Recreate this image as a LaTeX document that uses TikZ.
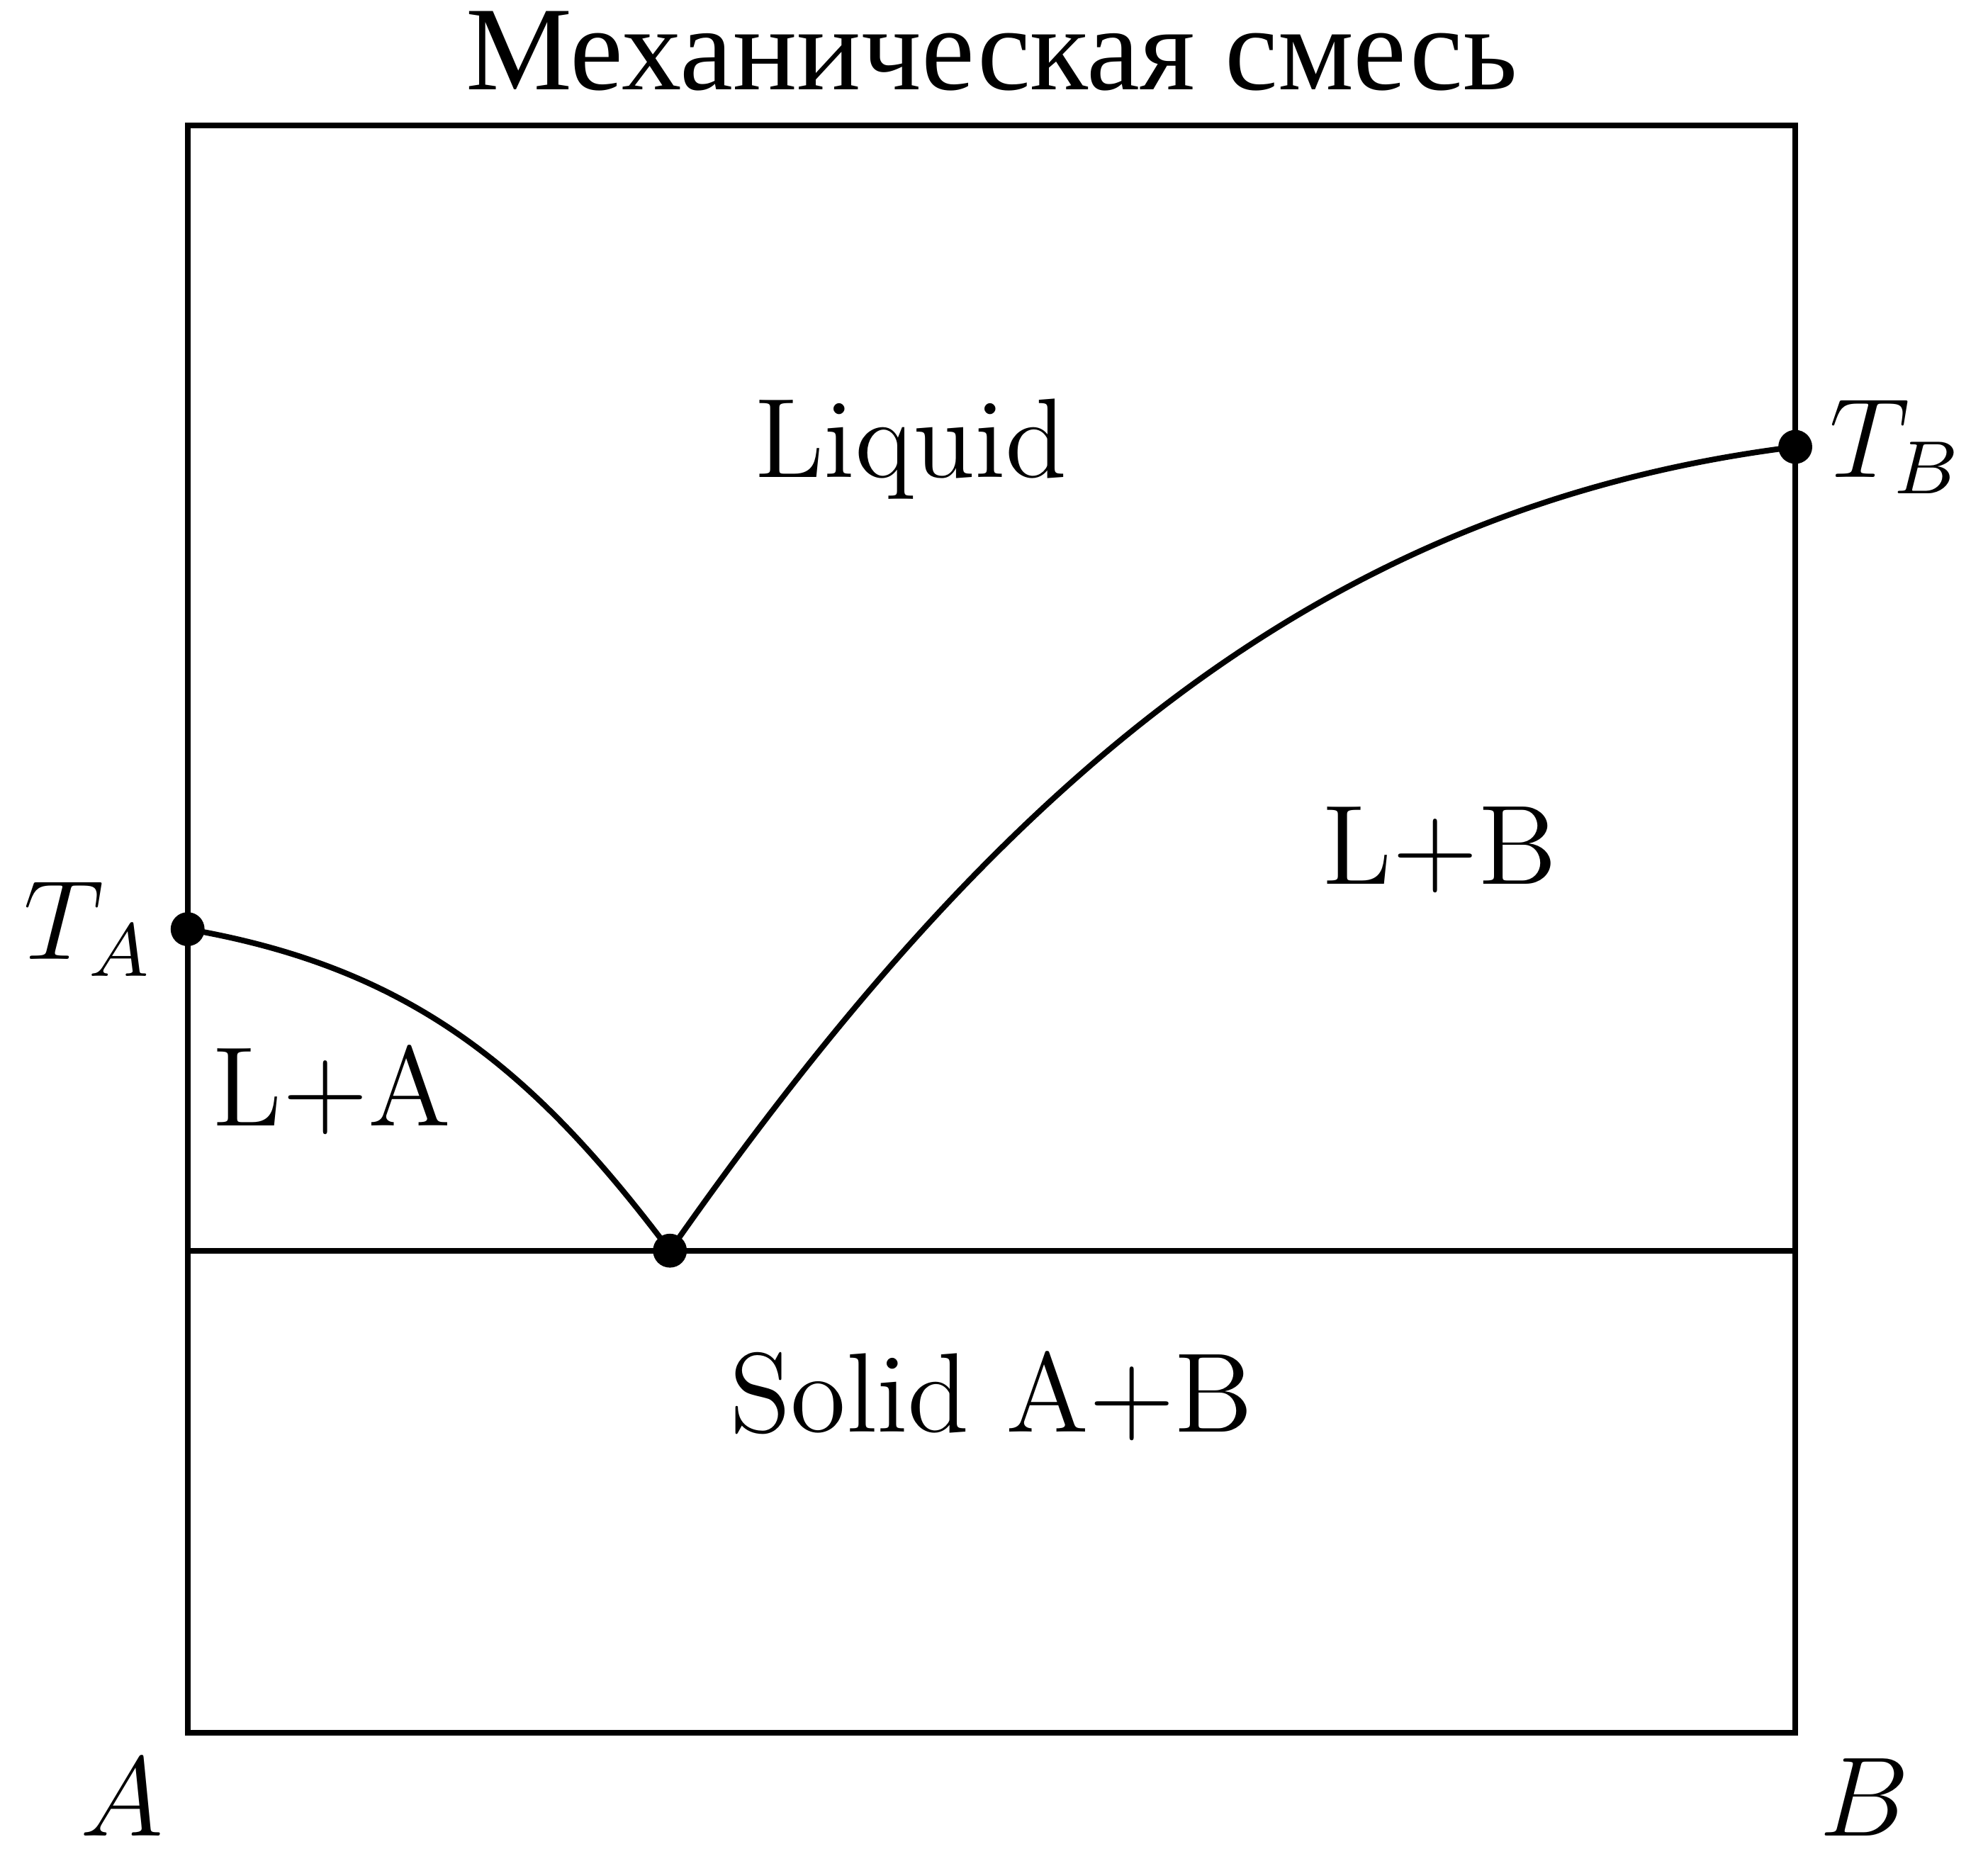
\documentclass[tikz,border=0pt]{standalone}
\usepackage{fontspec}
\newfontfamily\cyrfont{Liberation Serif}
\usetikzlibrary{positioning}
\tikzset{
  phase/.style={font=\large, anchor=base},
}

\begin{document}
\begin{tikzpicture}[x=0.6cm, y=0.6cm, semithick]
  \useasboundingbox (-1.167,-0.72) rectangle (11.199,10.78);
  % frame and eutectic line
  \draw (0,0) rectangle (10,10);
  \coordinate (TA) at (0,5);
  \coordinate (TB) at (10,8);
  \coordinate (E)  at (3,3);
  \coordinate (EL) at (0,3);
  \coordinate (ER) at (10,3);
  \draw (EL) -- (ER);
  % liquidus curves
  \draw (TA) .. controls (1.39,4.76) and (2.15,4.13) .. (E);
  \draw (E) .. controls (5.01,5.87) and (7.02,7.63) .. (TB);
  \foreach \p in {TA,E,TB} \fill (\p) circle (1.8pt);
  % temperatures and components
  \node[left, font=\large] (labTA) at (TA) {$T_A$};
  \node[right, font=\large] (labTB) at (TB) {$T_B$};
  \node[phase] (labA) at (-0.407,-0.64) {$A$};
  \node[phase] (labB) at (10.43,-0.64) {$B$};
  % phase fields
  \node[phase] (liq) at (4.5,7.81) {Liquid};
  \node[phase] (lb)  at (7.79,5.28) {L+B};
  \node[phase] (la)  at (0.9,3.775) {L+A};
  \node[phase] (sol) at (5.0,1.872) {Solid A+B};
  \node[phase, font=\fontsize{12.7}{15}\cyrfont] (title) at (5.0,10.22) {Механическая смесь};
\end{tikzpicture}
\end{document}
